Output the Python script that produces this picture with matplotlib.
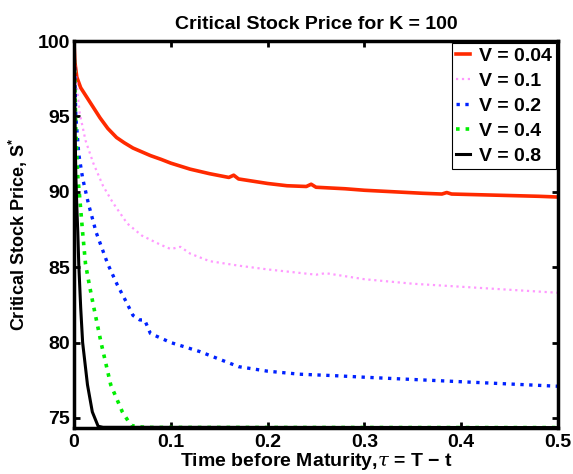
import matplotlib
matplotlib.use("Agg")
import matplotlib.pyplot as plt

plt.rcParams['font.family'] = ['Liberation Sans', 'DejaVu Sans']
plt.rcParams['mathtext.fontset'] = 'custom'
plt.rcParams['mathtext.rm'] = 'Liberation Sans:bold'
plt.rcParams['mathtext.it'] = 'DejaVu Serif:italic'

# V = 0.04
tau_004 = [0, 0.001, 0.003, 0.007, 0.013, 0.02, 0.027, 0.035, 0.044, 0.052, 0.061, 0.07, 0.079, 0.09, 0.1,
           0.12, 0.14, 0.16, 0.165, 0.17, 0.18, 0.2, 0.22, 0.24, 0.245, 0.25, 0.28, 0.3, 0.33, 0.36,
           0.38, 0.385, 0.39, 0.42, 0.45, 0.48, 0.5]
s_004 = [100, 98.6, 97.6, 96.9, 96.3, 95.6, 94.9, 94.2, 93.6, 93.25, 92.9, 92.65, 92.4, 92.15, 91.9,
         91.5, 91.2, 90.95, 91.1, 90.85, 90.75, 90.55, 90.4, 90.35, 90.5, 90.3, 90.2, 90.1, 90.0, 89.9,
         89.85, 89.95, 89.85, 89.8, 89.75, 89.7, 89.65]

# V = 0.1
tau_01 = [0, 0.001, 0.003, 0.006, 0.012, 0.02, 0.03, 0.04, 0.055, 0.07, 0.089, 0.1, 0.11, 0.12, 0.14,
          0.17, 0.2, 0.25, 0.26, 0.3, 0.35, 0.4, 0.45, 0.5]
s_01 = [100, 98.5, 97.0, 95.2, 93.4, 91.9, 90.4, 89.3, 87.9, 87.1, 86.5, 86.2, 86.35, 85.9, 85.4,
        85.1, 84.85, 84.5, 84.6, 84.2, 83.9, 83.7, 83.5, 83.3]

# V = 0.2
tau_02 = [0, 0.001, 0.002, 0.005, 0.009, 0.015, 0.023, 0.035, 0.045, 0.054, 0.061, 0.068, 0.073, 0.079,
          0.1, 0.13, 0.15, 0.17, 0.2, 0.233, 0.27, 0.3, 0.35, 0.4, 0.45, 0.5]
s_02 = [100, 97.5, 95.0, 92.5, 90.9, 89.2, 87.3, 85.2, 83.8, 82.7, 81.8, 81.5, 81.5, 80.6,
        80.0, 79.4, 78.9, 78.4, 78.1, 77.9, 77.8, 77.7, 77.55, 77.4, 77.25, 77.1]

# V = 0.4
tau_04 = [0, 0.001, 0.002, 0.004, 0.006, 0.009, 0.012, 0.016, 0.02, 0.028, 0.038, 0.05, 0.059, 0.068,
          0.08, 0.5]
s_04 = [100, 97.0, 94.0, 91.0, 89.6, 87.3, 85.2, 83.8, 82.5, 80.0, 77.2, 75.4, 74.5, 74.4,
        74.37, 74.36]

# V = 0.8
tau_08 = [0, 0.001, 0.002, 0.003, 0.004, 0.005, 0.007, 0.009, 0.014, 0.019, 0.025, 0.03, 0.5]
s_08 = [100, 95.0, 91.0, 89.0, 87.3, 85.2, 82.3, 80.0, 77.2, 75.4, 74.45, 74.38, 74.36]

labels = ['V = 0.04', 'V = 0.1', 'V = 0.2', 'V = 0.4', 'V = 0.8']
xticks = [0, 0.1, 0.2, 0.3, 0.4, 0.5]
xticklabels = ['0', '0.1', '0.2', '0.3', '0.4', '0.5']
yticks = [75, 80, 85, 90, 95, 100]

fig = plt.figure(figsize=(5.73, 4.74), dpi=100)
ax = fig.add_axes([0.129, 0.097, 0.845, 0.8165])

ax.plot(tau_004, s_004, color='#ff2a00', lw=2.6, ls='-', label=labels[0])
ax.plot(tau_01, s_01, color='#ff99ff', lw=1.6, ls=':', label=labels[1])
ax.plot(tau_02, s_02, color='#0022ff', lw=2.4, ls=':', label=labels[2])
ax.plot(tau_04, s_04, color='#00ee00', lw=2.6, ls=':', label=labels[3])
ax.plot(tau_08, s_08, color='black', lw=2.2, ls='-', label=labels[4])

ax.set_xlim(0, 0.5)
ax.set_ylim(74.33, 100)
ax.set_xticks(xticks)
ax.set_xticklabels(xticklabels)
ax.set_yticks(yticks)
ax.tick_params(direction='in', length=4, width=2, labelsize=14, top=True, right=True)
ax.tick_params(axis='x', pad=4)
ax.tick_params(axis='y', pad=3)
for lab in ax.get_xticklabels() + ax.get_yticklabels():
    lab.set_fontweight('bold')
for sp in ax.spines.values():
    sp.set_linewidth(2.5)

ax.set_title('Critical Stock Price for K = 100', fontsize=14, fontweight='bold', pad=9)
ax.set_xlabel(r'Time before Maturity,$\tau$ = T $-$ t', fontsize=14, fontweight='bold', labelpad=0)
ax.set_ylabel(r'Critical Stock Price, S$^{*}$', fontsize=13, fontweight='bold', labelpad=5)

leg = ax.legend(loc='upper right', prop={'weight': 'bold', 'size': 14},
                frameon=True, fancybox=False, framealpha=1, edgecolor='black',
                handlelength=0.75, handletextpad=0.45, borderaxespad=0.12,
                labelspacing=0.38, borderpad=0.2)
leg.get_frame().set_linewidth(0.8)

fig.savefig('out.png', dpi=100)
